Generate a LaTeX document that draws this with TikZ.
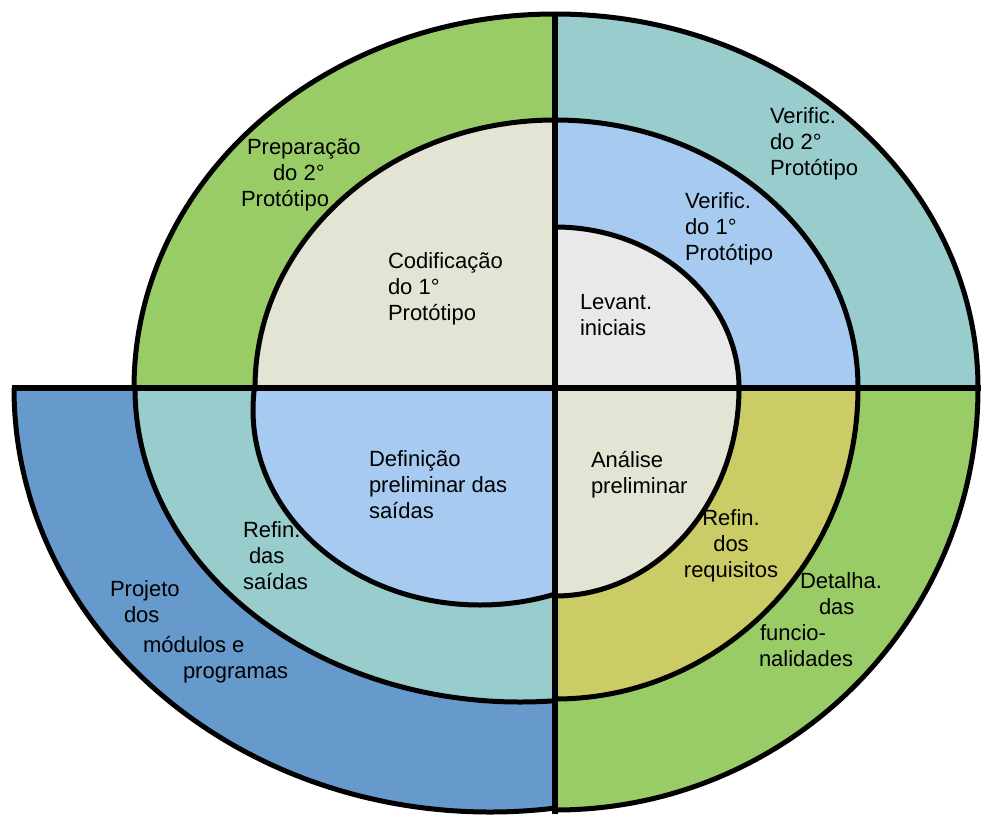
\documentclass[tikz,border=0pt]{standalone}
\usepackage{fontspec}
\setmainfont{Liberation Sans}
\definecolor{ringgreen}{HTML}{99CC66}
\definecolor{ringbeige}{HTML}{E4E4D4}
\definecolor{ringteal}{HTML}{99CCCC}
\definecolor{ringsky}{HTML}{A6CAF0}
\definecolor{ringgray}{HTML}{E9E9E9}
\definecolor{ringolive}{HTML}{CCCC66}
\definecolor{ringblue}{HTML}{6699CC}
\newcommand{\lblstrut}{\rule{0pt}{21pt}}
\begin{document}
\begin{tikzpicture}[x=1pt,y=-1pt,
  ring/.style={draw=black, line width=5pt},
  axisline/.style={draw=black, line width=6.5pt},
  lbl/.style={anchor=north west, inner sep=0pt, outer sep=0pt, align=left,
              font=\fontsize{22}{26}\selectfont},
  lblc/.style={lbl, anchor=north, align=center}]
\useasboundingbox (0,0) rectangle (981,816);

% upper left quarter
\begin{scope}
  \clip (0,0) rectangle (555,388);
  \path[ring, fill=ringgreen] (555,388) ellipse [x radius=421pt, y radius=374pt];
  \path[ring, fill=ringbeige] (555,388) ellipse [x radius=300pt, y radius=268pt];
\end{scope}

% upper right quarter
\begin{scope}
  \clip (555,0) rectangle (981,388);
  \path[ring, fill=ringteal] (555,388) ellipse [x radius=423pt, y radius=374pt];
  \path[ring, fill=ringsky]  (555,388) ellipse [x radius=303pt, y radius=268pt];
  \path[ring, fill=ringgray] (555,388) ellipse [x radius=184pt, y radius=161pt];
\end{scope}

% lower right quarter
\begin{scope}
  \clip (555,388) rectangle (981,816);
  \path[ring, fill=ringgreen] (555,388) ellipse [x radius=423pt, y radius=422pt];
  \path[ring, fill=ringolive] (555,388) ellipse [x radius=303pt, y radius=311pt];
  \path[ring, fill=ringbeige] (555,388) ellipse [x radius=184pt, y radius=208pt];
\end{scope}

% lower left quarter
\begin{scope}
  \clip (0,388) rectangle (555,816);
  \path[ring, fill=ringblue] (490,388) ellipse [x radius=476pt, y radius=424pt];
  \path[ring, fill=ringteal] (520,388) ellipse [x radius=385pt, y radius=314pt];
  \path[ring, fill=ringsky]  (480,410) ellipse [x radius=227pt, y radius=195pt];
\end{scope}

% axes dividing the quarters
\coordinate (hl) at (12,388);
\coordinate (hr) at (981,388);
\coordinate (vt) at (555,12);
\coordinate (vb) at (555,814);
\draw[axisline] (hl) -- (hr);
\draw[axisline] (vt) -- (vb);

% labels
\node[lbl] (prep) at (241,133)
  {\lblstrut\hspace*{6pt}Preparação\\\hspace*{32pt}do 2°\\Protótipo};
\node[lbl] (ver2) at (770,102) {\lblstrut Verific.\\do 2°\\Protótipo};
\node[lbl] (ver1) at (685,187) {\lblstrut Verific.\\do 1°\\Protótipo};
\node[lbl] (cod) at (388,247) {\lblstrut Codificação\\do 1°\\Protótipo};
\node[lbl] (lev) at (580,288) {\lblstrut Levant.\\iniciais};
\node[lbl] (def) at (369,445) {\lblstrut Definição\\preliminar das\\saídas};
\node[lbl] (ana) at (591,446) {\lblstrut Análise\\preliminar};
\node[lblc] (rreq) at (731,504) {\lblstrut Refin.\\dos\\requisitos};
\node[lbl] (det) at (759,567)
  {\lblstrut\hspace*{41pt}Detalha.\\\hspace*{60pt}das\\\hspace*{1pt}funcio-\\nalidades};
\node[lbl] (rsai) at (243,516) {\lblstrut Refin.\\\hspace*{6pt}das\\saídas};
\node[lbl] (proj) at (110,575)
  {\lblstrut Projeto\\\hspace*{14pt}dos\\[4pt]\hspace*{33pt}módulos e\\\hspace*{73pt}programas};
\end{tikzpicture}
\end{document}
